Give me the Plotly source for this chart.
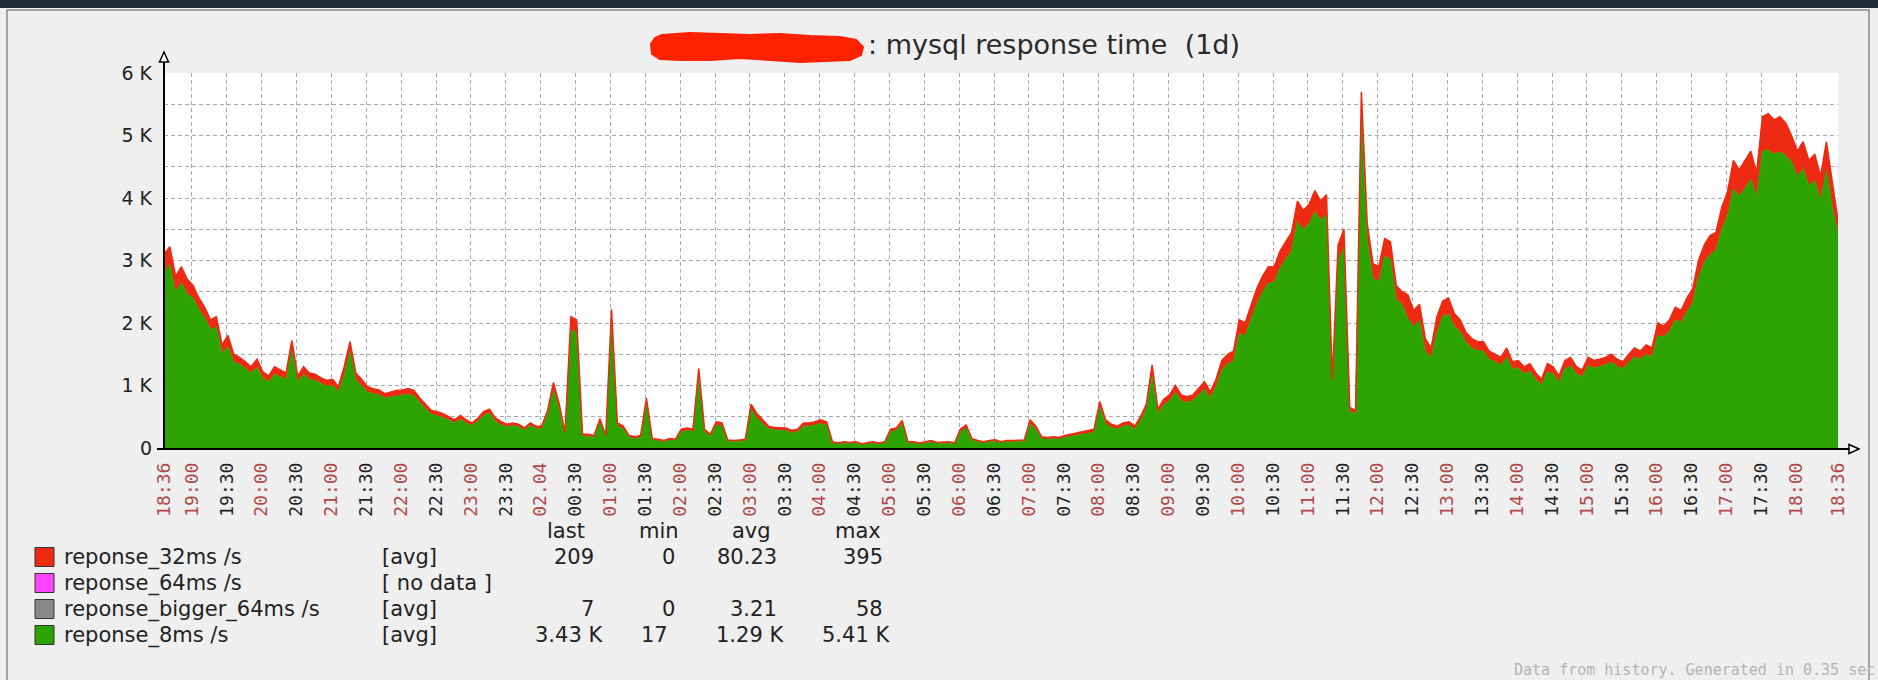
import plotly.graph_objects as go

W, H = 1878, 680

# ---- data: 5-minute samples from 18:36 to 18:36 next day (minutes since start)
minutes = list(range(0, 1441, 5))

reponse_8ms = [
    2800, 2940, 2500, 2640, 2470, 2400, 2220, 2090, 1900, 1930, 1520, 1620,
    1380, 1340, 1270, 1200, 1290, 1120, 1060, 1180, 1140, 1100, 1550, 1060,
    1180, 1100, 1080, 1030, 990, 1000, 900, 1160, 1540, 1090, 1000, 900,
    870, 850, 800, 820, 840, 850, 860, 840, 730, 630, 540, 520,
    490, 450, 400, 460, 400, 360, 430, 520, 560, 430, 370, 340,
    360, 340, 290, 360, 310, 310, 540, 930, 620, 220, 1900, 1830,
    180, 190, 170, 420, 170, 1970, 350, 310, 170, 150, 170, 700,
    130, 120, 100, 130, 120, 260, 280, 260, 1120, 260, 190, 370,
    350, 110, 100, 110, 120, 620, 480, 390, 310, 290, 290, 280,
    240, 260, 350, 350, 370, 390, 370, 80, 60, 80, 70, 80,
    50, 70, 80, 60, 80, 260, 280, 390, 80, 80, 60, 80,
    100, 70, 80, 80, 60, 260, 320, 130, 100, 80, 100, 110,
    80, 100, 100, 110, 110, 390, 300, 150, 140, 150, 140, 170,
    190, 210, 220, 230, 260, 650, 390, 330, 300, 350, 370, 300,
    440, 620, 1150, 550, 690, 760, 890, 760, 730, 760, 850, 940,
    800, 980, 1250, 1350, 1390, 1830, 1800, 2040, 2310, 2500, 2640, 2650,
    2880, 3020, 3160, 3620, 3500, 3590, 3780, 3650, 3730, 1000, 2990, 3210,
    590, 540, 5320, 3320, 2710, 2670, 3070, 3020, 2380, 2300, 2070, 1950,
    2040, 1550, 1450, 1850, 2110, 2140, 1950, 1860, 1690, 1600, 1560, 1550,
    1420, 1380, 1330, 1450, 1270, 1280, 1190, 1230, 1100, 1010, 1220, 1190,
    1050, 1270, 1310, 1190, 1140, 1320, 1280, 1300, 1330, 1370, 1310, 1270,
    1370, 1460, 1420, 1500, 1460, 1800, 1780, 1870, 2050, 2010, 2180, 2320,
    2740, 2970, 3100, 3160, 3500, 3720, 4150, 4030, 4160, 4300, 4020, 4750,
    4770, 4700, 4740, 4680, 4580, 4350, 4470, 4200, 4280, 3970, 4450, 3870,
    3430,
]

reponse_32ms = [
    300, 280, 250, 260, 230, 200, 180, 160, 150, 170, 130, 180,
    120, 110, 110, 100, 130, 100, 90, 120, 110, 100, 170, 90,
    120, 100, 100, 90, 90, 100, 80, 140, 160, 110, 100, 80,
    80, 80, 70, 80, 80, 80, 90, 80, 70, 70, 60, 60,
    60, 50, 50, 60, 50, 40, 50, 60, 60, 50, 50, 40,
    40, 40, 30, 40, 40, 40, 60, 120, 80, 30, 200, 220,
    40, 30, 30, 50, 30, 250, 50, 40, 30, 30, 30, 100,
    20, 20, 20, 20, 20, 40, 40, 40, 150, 40, 30, 50,
    50, 20, 20, 20, 20, 80, 70, 60, 40, 40, 40, 40,
    40, 40, 50, 50, 50, 60, 50, 20, 20, 20, 20, 20,
    20, 20, 20, 20, 20, 40, 40, 50, 20, 20, 20, 20,
    20, 20, 20, 20, 20, 40, 50, 20, 20, 20, 20, 20,
    20, 20, 20, 20, 20, 60, 50, 30, 30, 30, 30, 30,
    30, 30, 30, 40, 40, 90, 60, 50, 50, 50, 50, 50,
    60, 80, 180, 70, 90, 90, 110, 90, 90, 90, 100, 120,
    100, 120, 150, 150, 160, 220, 200, 220, 240, 250, 260, 250,
    270, 280, 290, 330, 300, 310, 340, 300, 320, 100, 260, 290,
    60, 60, 380, 280, 240, 230, 280, 280, 220, 200, 380, 250,
    260, 200, 150, 250, 240, 260, 200, 190, 160, 150, 140, 150,
    130, 120, 120, 150, 110, 120, 110, 120, 100, 90, 130, 110,
    100, 130, 140, 110, 110, 130, 120, 120, 120, 130, 110, 110,
    130, 140, 130, 150, 140, 200, 170, 180, 200, 190, 220, 230,
    260, 280, 300, 290, 350, 380, 450, 420, 440, 450, 380, 550,
    580, 550, 560, 520, 420, 400, 430, 400, 420, 380, 450, 380,
    209,
]

tick_minutes = [0, 24, 54, 84, 114, 144, 174, 204, 234, 264, 294, 324, 354, 384,
                414, 444, 474, 504, 534, 564, 594, 624, 654, 684, 714, 744, 774,
                804, 834, 864, 894, 924, 954, 984, 1014, 1044, 1074, 1104, 1134,
                1164, 1194, 1224, 1254, 1284, 1314, 1344, 1374, 1404, 1440]
tick_labels = ["18:36", "19:00", "19:30", "20:00", "20:30", "21:00", "21:30",
               "22:00", "22:30", "23:00", "23:30", "02.04", "00:30", "01:00",
               "01:30", "02:00", "02:30", "03:00", "03:30", "04:00", "04:30",
               "05:00", "05:30", "06:00", "06:30", "07:00", "07:30", "08:00",
               "08:30", "09:00", "09:30", "10:00", "10:30", "11:00", "11:30",
               "12:00", "12:30", "13:00", "13:30", "14:00", "14:30", "15:00",
               "15:30", "16:00", "16:30", "17:00", "17:30", "18:00", "18:36"]

y_tick_values = [0, 500, 1000, 1500, 2000, 2500, 3000, 3500, 4000, 4500, 5000, 5500, 6000]
y_tick_labels = ["0", "", "1 K", "", "2 K", "", "3 K", "", "4 K", "", "5 K", "", "6 K"]

legend_names = ["reponse_32ms /s", "reponse_64ms /s", "reponse_bigger_64ms /s", "reponse_8ms /s"]
legend_funcs = ["[avg]", "[ no data ]", "[avg]", "[avg]"]
legend_last = ["209", "", "7", "3.43 K"]
legend_min = ["0", "", "0", "17"]
legend_avg = ["80.23", "", "3.21", "1.29 K"]
legend_max = ["395", "", "58", "5.41 K"]
legend_colors = ["#ee2a12", "#ff44ff", "#888888", "#2ca300"]

GREEN = "#2ca300"
RED = "#ee2a12"
HOUR_RED = "#b04848"


def px(x):
    return x / W


def py(y):
    return 1 - y / H


fig = go.Figure()
fig.add_trace(go.Scatter(
    x=minutes, y=reponse_8ms, stackgroup="one", mode="lines",
    line=dict(color=GREEN, width=0.8, shape="linear"), fillcolor=GREEN,
    name="reponse_8ms /s", hoverinfo="skip"))
fig.add_trace(go.Scatter(
    x=minutes, y=reponse_32ms, stackgroup="one", mode="lines",
    line=dict(color=RED, width=1.5, shape="linear"), fillcolor=RED,
    name="reponse_32ms /s", hoverinfo="skip"))

ticktext = []
for lab in tick_labels:
    if lab.endswith(":30"):
        ticktext.append(lab)
    else:
        ticktext.append(f'<span style="color:{HOUR_RED}">{lab}</span>')

grid_color = "#aaaaaa"
fig.update_xaxes(
    domain=[px(164), px(1838)], range=[0, 1440], tickmode="array",
    tickvals=tick_minutes, ticktext=ticktext, tickangle=-90,
    tickfont=dict(family="DejaVu Sans Mono", size=18, color="#222222"),
    showgrid=True, gridcolor=grid_color, gridwidth=1, griddash="4px,3px",
    zeroline=False, showline=False, ticks="", ticklabelstandoff=10,
    automargin=False, fixedrange=True)
fig.update_yaxes(
    domain=[py(448), py(73)], range=[0, 6000], tickmode="array",
    tickvals=y_tick_values, ticktext=y_tick_labels,
    tickfont=dict(family="DejaVu Sans", size=19, color="#222222"),
    showgrid=True, gridcolor=grid_color, gridwidth=1, griddash="4px,3px",
    zeroline=False, showline=False, ticks="", ticklabelstandoff=11,
    automargin=False, fixedrange=True)

shapes = []
# window chrome
shapes.append(dict(type="rect", xref="paper", yref="paper", x0=0, x1=1, y0=py(8), y1=1,
                   fillcolor="#1e2d38", line=dict(width=0), layer="below"))
shapes.append(dict(type="rect", xref="paper", yref="paper", x0=px(7), x1=px(1869),
                   y0=py(690), y1=py(10), fillcolor="rgba(0,0,0,0)",
                   line=dict(color="#8c8c8c", width=1.5), layer="above"))

# redaction blob over the host name
blob = [(662, 35), (690, 33), (720, 34), (750, 35), (780, 34), (810, 36), (840, 37),
        (856, 40), (863, 47), (861, 55), (850, 60), (825, 61), (800, 62), (770, 60),
        (740, 58), (710, 60), (680, 60), (660, 59), (652, 54), (651, 44), (655, 38)]
path = "M " + " L ".join(f"{px(x):.5f},{py(y):.5f}" for x, y in blob) + " Z"
shapes.append(dict(type="path", xref="paper", yref="paper", path=path,
                   fillcolor="#ff2200", line=dict(color="#ff2200", width=2), layer="above"))

# axes with arrows
axis_line = dict(color="#000000", width=2)
shapes.append(dict(type="line", xref="paper", yref="paper", x0=px(157), x1=px(1849),
                   y0=py(449), y1=py(449), line=axis_line, layer="above"))
shapes.append(dict(type="line", xref="paper", yref="paper", x0=px(164), x1=px(164),
                   y0=py(449), y1=py(62), line=axis_line, layer="above"))
up = [(164, 52), (168.5, 62), (159.5, 62)]
shapes.append(dict(type="path", xref="paper", yref="paper",
                   path="M " + " L ".join(f"{px(x):.5f},{py(y):.5f}" for x, y in up) + " Z",
                   fillcolor="#ffffff", line=dict(color="#000000", width=1.5), layer="above"))
right = [(1859, 449), (1849, 444.5), (1849, 453.5)]
shapes.append(dict(type="path", xref="paper", yref="paper",
                   path="M " + " L ".join(f"{px(x):.5f},{py(y):.5f}" for x, y in right) + " Z",
                   fillcolor="#ffffff", line=dict(color="#000000", width=1.5), layer="above"))

annotations = []
annotations.append(dict(text=": mysql response time \u00a0(1d)", x=px(866), y=py(45),
                        xref="paper", yref="paper", xanchor="left", yanchor="middle",
                        showarrow=False,
                        font=dict(family="DejaVu Sans", size=27, color="#2a2a2a")))

# legend
row_y = [557, 583, 609, 635]
lfont = dict(family="DejaVu Sans", size=21, color="#222222")
for hdr, cx in zip(["last", "min", "avg", "max"], [566, 659, 751, 858]):
    annotations.append(dict(text=hdr, x=px(cx), y=py(531), xref="paper", yref="paper",
                            xanchor="center", yanchor="middle", showarrow=False, font=lfont))
last_r = [596, 596, 596, 605]
min_r = [677, 677, 677, 670]
avg_r = [779, 779, 779, 786]
max_r = [885, 885, 885, 892]
for k in range(4):
    yy = row_y[k]
    shapes.append(dict(type="rect", xref="paper", yref="paper", x0=px(35), x1=px(54),
                       y0=py(yy + 9.5), y1=py(yy - 9.5), fillcolor=legend_colors[k],
                       line=dict(color="#333333", width=1), layer="above"))
    annotations.append(dict(text=legend_names[k], x=px(62), y=py(yy), xref="paper",
                            yref="paper", xanchor="left", yanchor="middle",
                            showarrow=False, font=lfont))
    annotations.append(dict(text=legend_funcs[k], x=px(380), y=py(yy), xref="paper",
                            yref="paper", xanchor="left", yanchor="middle",
                            showarrow=False, font=lfont))
    for vals, rx in ((legend_last, last_r), (legend_min, min_r),
                     (legend_avg, avg_r), (legend_max, max_r)):
        if vals[k]:
            annotations.append(dict(text=vals[k], x=px(rx[k]), y=py(yy), xref="paper",
                                    yref="paper", xanchor="right", yanchor="middle",
                                    showarrow=False, font=lfont))

annotations.append(dict(text="Data from history. Generated in 0.35 sec", x=px(1877),
                        y=py(670), xref="paper", yref="paper", xanchor="right",
                        yanchor="middle", showarrow=False,
                        font=dict(family="DejaVu Sans Mono", size=15, color="#b4b4b4")))

fig.update_layout(
    width=W, height=H, autosize=False,
    margin=dict(l=0, r=0, t=0, b=0),
    paper_bgcolor="#efefef", plot_bgcolor="#ffffff",
    showlegend=False, shapes=shapes, annotations=annotations,
)

page_fix = (
    "document.documentElement.style.margin='0';"
    "document.body.style.margin='0';document.body.style.padding='0';"
    "document.documentElement.style.overflow='hidden';"
    "document.body.style.overflow='hidden';"
    "var gd=document.querySelector('.plotly-graph-div');"
    "if(gd){gd.style.position='fixed';gd.style.left='0px';gd.style.top='0px';}"
)
fig.write_html("out.html", post_script=page_fix, config={"displayModeBar": False})
